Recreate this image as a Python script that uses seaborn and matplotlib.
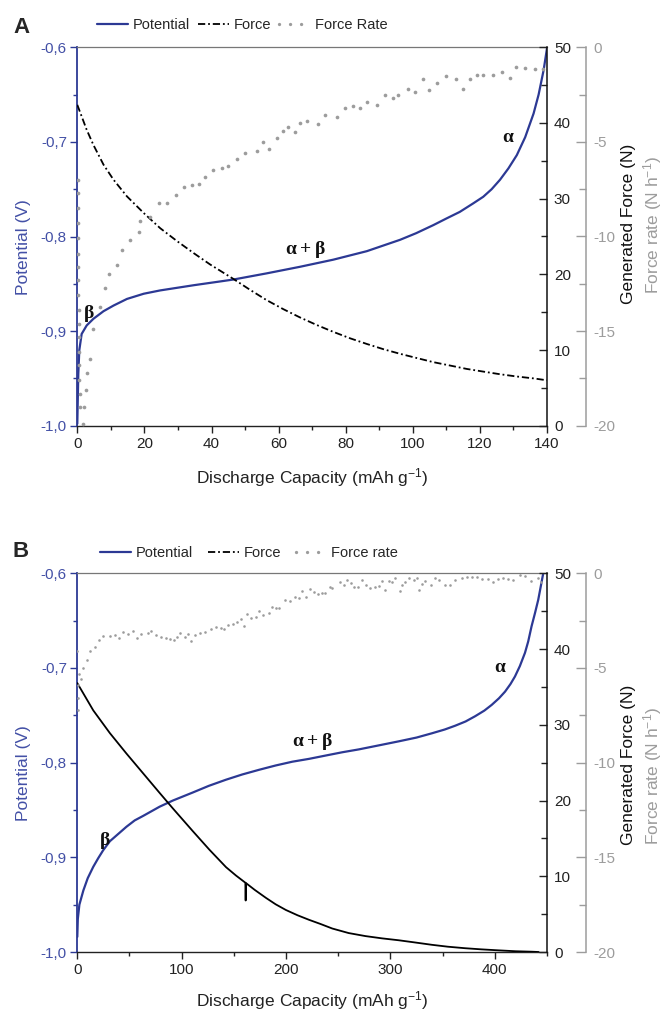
import matplotlib
matplotlib.use("Agg")
import matplotlib.pyplot as plt
import seaborn as sns
from matplotlib.lines import Line2D
from matplotlib.ticker import MultipleLocator, FuncFormatter

# ---- panel A ----
cap_a_pot = [0, 0.3, 0.6, 1.3, 2.8, 4.8, 7.8, 10.8, 14.8, 19.8, 24.7, 34.7, 42.6, 46.5,
             56.4, 66.4, 76.3, 86.3, 96.2, 101, 106.1, 110, 114, 118, 121, 123.5, 126,
             128.5, 131, 133.5, 136, 137.5, 139, 140]
pot_a = [-0.998, -0.945, -0.920, -0.903, -0.894, -0.887, -0.879, -0.873, -0.866, -0.8605,
         -0.857, -0.8515, -0.8475, -0.8455, -0.839, -0.832, -0.8245, -0.8155, -0.8035,
         -0.7965, -0.788, -0.781, -0.774, -0.765, -0.758, -0.750, -0.740, -0.728, -0.714,
         -0.695, -0.670, -0.650, -0.624, -0.601]

cap_a_force = [0, 2.8, 4.8, 7.8, 10.8, 14.8, 19.8, 24.7, 29.7, 34.7, 39.6, 46.5, 51.5,
               56.4, 61.4, 66.4, 71.4, 76.3, 81.3, 86.3, 91.3, 96.2, 101.1, 106.1, 111.1,
               116.1, 121, 126, 131, 136, 140]
force_a = [42.4, 39.1, 37.1, 34.5, 32.5, 30.3, 28.1, 26.1, 24.4, 22.8, 21.3, 19.4, 17.95,
           16.6, 15.4, 14.3, 13.3, 12.4, 11.55, 10.8, 10.1, 9.5, 8.95, 8.4, 7.95,
           7.5, 7.15, 6.8, 6.5, 6.25, 6.0]

cap_a_rate = [0.2, 0.2, 0.25, 0.25, 0.3, 0.3, 0.3, 0.35, 0.35, 0.4, 0.4, 0.45, 0.5, 0.55,
              0.6, 0.7, 0.8,
              1.6, 2.0, 2.6, 3.0, 3.8, 4.8, 6.8, 8.3, 9.3, 11.8, 13.3, 15.8, 18.3, 18.8,
              21.8, 24.3, 26.8, 29.3, 31.8, 34.2, 36.2, 38.2, 40.5, 43.0, 45.0, 47.5, 50.0,
              53.5, 55.4, 57.2, 59.4, 61.4, 62.9, 64.9, 66.4, 68.4, 71.8, 73.8, 77.3, 79.8,
              82.3, 84.3, 86.3, 89.2, 91.7, 94.0, 95.7, 98.7, 100.7, 102.9, 104.9, 107.3,
              109.8, 112.9, 115.1, 117.0, 119.0, 121.0, 123.8, 126.5, 129.0, 130.8, 133.4,
              136.4, 138.9]
rate_a = [-7.0, -7.7, -8.5, -9.3, -10.1, -10.9, -11.6, -12.3, -13.1, -13.9, -14.6, -15.3,
          -16.1, -16.8, -17.6, -18.3, -19.0,
          -19.9, -19.0, -18.1, -17.2, -16.5, -14.9, -13.7, -12.7, -12.0, -11.5, -10.7,
          -10.2, -9.75, -9.2, -8.95, -8.25, -8.25, -7.8, -7.4, -7.3, -7.2, -6.85, -6.5,
          -6.4, -6.3, -5.9, -5.6, -5.5, -5.0, -5.35, -4.8, -4.4, -4.2, -4.5, -4.0, -3.9,
          -4.05, -3.6, -3.7, -3.2, -3.1, -3.2, -2.9, -3.05, -2.5, -2.7, -2.5, -2.2, -2.35,
          -1.7, -2.25, -1.9, -1.5, -1.65, -2.2, -1.7, -1.45, -1.45, -1.45, -1.3, -1.6,
          -1.05, -1.1, -1.15, -1.15]

# ---- panel B ----
cap_b_pot = [0, 0.5, 2, 5.8, 10, 15.3, 20, 24.8, 31.2, 47.1, 55, 63, 78.9, 91.6, 110.7,
             126, 142.5, 158, 174.3, 190, 206, 222, 237.9, 254, 269.7, 290, 307.9, 325,
             339.7, 352, 362, 372, 381.1, 390, 397, 404, 409.8, 415, 419.3, 424, 428.9,
             432, 435.2, 438.5, 441.6, 444, 446.4]
pot_b = [-0.984, -0.965, -0.950, -0.935, -0.922, -0.910, -0.901, -0.8925, -0.883, -0.8677,
         -0.861, -0.8563, -0.8465, -0.840, -0.8315, -0.8245, -0.818, -0.8125, -0.8075,
         -0.803, -0.799, -0.796, -0.7925, -0.789, -0.786, -0.7815, -0.7775, -0.7735,
         -0.769, -0.765, -0.761, -0.7565, -0.751, -0.745, -0.739, -0.732, -0.725, -0.717,
         -0.709, -0.698, -0.684, -0.672, -0.656, -0.642, -0.628, -0.614, -0.600]

cap_b_force = [0, 15.3, 31.2, 47.1, 63, 78.9, 91.6, 110.7, 126.6, 142.5, 152, 161, 161.3,
               161.6, 170, 180.7, 190, 199.8, 211, 222, 233, 244.3, 260, 276.1, 292, 307.9,
               324, 339.7, 355, 371.5, 387, 403.3, 420, 435.2, 442]
force_b = [35.5, 31.9, 28.9, 26.2, 23.6, 21.0, 18.95, 15.95, 13.5, 11.2, 10.1, 9.15, 6.8,
           9.1, 8.2, 7.15, 6.3, 5.55, 4.85, 4.25, 3.7, 3.1, 2.5, 2.1, 1.8, 1.55,
           1.25, 0.95, 0.7, 0.5, 0.35, 0.22, 0.1, 0.04, 0.0]

cap_b_rate = [0.1, 0.3, 0.5, 0.8, 1.2, 3.2, 5.1, 8.9, 12.1, 16.9,
              21.0, 24.8, 31.2, 36.0, 40.1, 43.9, 48.7, 53.5, 57.3, 61.4,
              67.8, 71.0, 75.1, 79.9, 84.6, 88.5, 92.3, 95.4, 98.6, 102.8,
              105.9, 108.5, 112.3, 117.1, 121.9, 128.2, 133.0, 137.8, 140.9, 144.8,
              148.9, 152.7, 156.8, 159.4, 162.2, 166.4, 171.2, 174.3, 178.1, 183.2,
              186.4, 190.2, 193.4, 198.8, 203.6, 208.7, 212.5, 215.7, 218.9, 222.7,
              226.8, 230.9, 234.8, 237.3, 241.8, 244.3, 251.3, 255.4, 258.6, 261.8,
              265.0, 269.1, 272.9, 276.7, 280.9, 285.0, 288.8, 292.0, 294.6, 298.4,
              301.6, 304.7, 309.5, 311.1, 314.3, 317.5, 322.2, 325.4, 327.0, 330.2,
              333.4, 339.1, 342.9, 346.1, 352.5, 357.2, 362.0, 368.4, 373.1, 377.9,
              382.7, 387.4, 393.8, 398.6, 403.3, 408.1, 412.9, 417.6, 424.0, 428.8,
              435.1, 441.5, 444.7]
rate_b = [-4.1, -7.2, -6.6, -5.9, -5.3, -5.6, -5.0, -4.6, -4.1, -3.9,
          -3.5, -3.3, -3.3, -3.25, -3.4, -3.1, -3.2, -3.05, -3.4, -3.2,
          -3.15, -3.05, -3.25, -3.35, -3.4, -3.45, -3.5, -3.35, -3.15, -3.35,
          -3.2, -3.6, -3.25, -3.15, -3.1, -2.95, -2.85, -2.9, -2.95, -2.75,
          -2.7, -2.55, -2.4, -2.8, -2.15, -2.35, -2.3, -2.0, -2.2, -2.1,
          -1.8, -1.85, -1.85, -1.4, -1.45, -1.25, -1.3, -0.95, -1.25, -0.85,
          -1.0, -1.1, -1.05, -1.05, -0.7, -0.8, -0.45, -0.6, -0.35, -0.5,
          -0.7, -0.7, -0.35, -0.6, -0.75, -0.7, -0.65, -0.4, -0.9, -0.4,
          -0.45, -0.25, -0.95, -0.6, -0.45, -0.25, -0.35, -0.25, -0.9, -0.55,
          -0.4, -0.6, -0.25, -0.35, -0.6, -0.6, -0.35, -0.25, -0.2, -0.2,
          -0.2, -0.3, -0.3, -0.45, -0.3, -0.25, -0.3, -0.35, -0.1, -0.12,
          -0.4, -0.25, -0.45]

legend_a = ['Potential', 'Force', 'Force Rate']
legend_b = ['Potential', 'Force', 'Force rate']

BLUE = '#2c3994'
BLUE_TXT = '#4350a6'
GREY = '#9c9c9c'
DASHDOT = (0, (4, 1.6, 1, 1.6))


def coma(v, pos):
    return f'{v:.1f}'.replace('.', ',')


def entero(v, pos):
    return f'{int(round(v))}'


def dibujar_panel(fig, rect, letra, datos, xmax, xmaj, xmin, nombres, leg_x, leg_y,
                  col_sp, letra_y, anot, dot_s, force_ls, lab_force_y, lab_rate_y, xlab_y):
    x_pot, pot, x_f, f, x_r, r = datos
    ax = fig.add_axes(rect)
    ax2 = ax.twinx()
    ax3 = ax.twinx()

    sns.lineplot(x=x_pot, y=pot, ax=ax, color=BLUE, lw=1.6, sort=False,
                 estimator=None, errorbar=None)
    sns.lineplot(x=x_f, y=f, ax=ax2, color='black', lw=1.3, sort=False,
                 estimator=None, errorbar=None, linestyle=force_ls)
    sns.scatterplot(x=x_r, y=r, ax=ax3, color=GREY, s=dot_s, linewidth=0)

    ax.set_xlim(0, xmax)
    ax.set_ylim(-1.0, -0.6)
    ax2.set_ylim(0, 50)
    ax3.set_ylim(-20, 0)

    ax.xaxis.set_major_locator(MultipleLocator(xmaj))
    ax.xaxis.set_minor_locator(MultipleLocator(xmin))
    ax.yaxis.set_major_locator(MultipleLocator(0.1))
    ax.yaxis.set_minor_locator(MultipleLocator(0.05))
    ax.yaxis.set_major_formatter(FuncFormatter(coma))
    ax2.yaxis.set_major_locator(MultipleLocator(10))
    ax2.yaxis.set_minor_locator(MultipleLocator(5))
    ax3.yaxis.set_major_locator(MultipleLocator(5))
    ax3.yaxis.set_minor_locator(MultipleLocator(2.5))
    ax3.yaxis.set_major_formatter(FuncFormatter(entero))

    # espinas
    for s in ['top', 'left', 'bottom']:
        ax2.spines[s].set_visible(False)
        ax3.spines[s].set_visible(False)
    ax.spines['right'].set_visible(False)
    ax.spines['left'].set_color(BLUE)
    ax.spines['left'].set_linewidth(1.3)
    ax.spines['bottom'].set_color('#222222')
    ax.spines['bottom'].set_linewidth(1.0)
    ax.spines['top'].set_color('#777777')
    ax.spines['top'].set_linewidth(0.9)
    ax2.spines['right'].set_color('#111111')
    ax2.spines['right'].set_linewidth(1.1)
    ax3.spines['right'].set_position(('axes', 1.083))
    ax3.spines['right'].set_color(GREY)
    ax3.spines['right'].set_linewidth(1.1)

    ax.tick_params(axis='x', which='major', direction='out', length=5, width=1,
                   labelsize=11, pad=3, colors='#222222')
    ax.tick_params(axis='x', which='minor', direction='out', length=3, width=1,
                   colors='#222222')
    ax.tick_params(axis='y', which='major', direction='out', length=5, width=1,
                   labelsize=11, pad=2.5, color=BLUE, labelcolor=BLUE_TXT)
    ax.tick_params(axis='y', which='minor', direction='out', length=3, width=1,
                   color=BLUE)
    ax2.tick_params(axis='y', which='major', direction='in', length=6, width=1,
                    labelsize=11, pad=5, colors='#222222')
    ax2.tick_params(axis='y', which='minor', direction='in', length=4, width=1,
                    colors='#222222')
    ax3.tick_params(axis='y', which='major', direction='in', length=7, width=1,
                    labelsize=11, pad=5, colors=GREY)
    ax3.tick_params(axis='y', which='minor', direction='in', length=5, width=1,
                    colors=GREY)

    ax.set_xlabel('Discharge Capacity (mAh g$^{-1}$)', fontsize=12.5, color='#222222')
    ax.xaxis.set_label_coords(0.5, xlab_y)
    ax.set_ylabel('Potential (V)', fontsize=12.5, color=BLUE_TXT)
    ax.yaxis.set_label_coords(-0.099, 0.472)
    ax2.set_ylabel('')
    ax3.set_ylabel('')
    fig.text(628 / 664, 1 - lab_force_y / 1013, 'Generated Force (N)', rotation=90,
             ha='center', va='center', fontsize=12.5, color='#111111')
    fig.text(653 / 664, 1 - lab_rate_y / 1013, 'Force rate (N h$^{-1}$)', rotation=90,
             ha='center', va='center', fontsize=12.5, color=GREY)

    # letras griegas
    for txt, xx, yy in anot:
        ax.text(xx, yy, txt, ha='center', va='center', fontsize=14, fontweight='bold',
                family=['Liberation Serif', 'DejaVu Serif'], color='#111111')

    fig.text(13 / 664, 1 - letra_y / 1013, letra, fontsize=16, fontweight='bold',
             ha='left', va='baseline')

    handles = [Line2D([], [], color=BLUE, lw=1.6),
               Line2D([], [], color='black', lw=1.3, linestyle=DASHDOT),
               Line2D([], [], color=GREY, lw=2.4, linestyle=(0, (0.01, 3.3)),
                      dash_capstyle='round')]
    ax3.legend(handles, nombres, loc='lower left', bbox_to_anchor=(leg_x, leg_y),
               ncol=3, frameon=False, fontsize=10.5, handlelength=2.1,
               handletextpad=0.35, columnspacing=col_sp, borderaxespad=0, borderpad=0)
    return ax


sns.set_style('ticks')
plt.rcParams['font.family'] = ['Liberation Sans', 'DejaVu Sans']
plt.rcParams['mathtext.default'] = 'regular'

fig = plt.figure(figsize=(6.64, 10.13), dpi=100)

dibujar_panel(fig, [77.3 / 664, 1 - 425.7 / 1013, 469.7 / 664, 378.4 / 1013], 'A',
              (cap_a_pot, pot_a, cap_a_force, force_a, cap_a_rate, rate_a),
              140, 20, 10, legend_a, 0.042, 1.04, 0.55, 33,
              [(r'$\alpha$', 128.4, -0.695), (r'$\alpha+\beta$', 68, -0.814),
               (r'$\beta$', 3.3, -0.881)],
              7, DASHDOT, 224, 225, -0.108)

dibujar_panel(fig, [77.3 / 664, 1 - 952 / 1013, 469.7 / 664, 378.7 / 1013], 'B',
              (cap_b_pot, pot_b, cap_b_force, force_b, cap_b_rate, rate_b),
              450, 100, 50, legend_b, 0.049, 1.035, 1.0, 557,
              [(r'$\alpha$', 405, -0.699), (r'$\alpha+\beta$', 225, -0.778),
               (r'$\beta$', 26.4, -0.882)],
              3.5, '-', 765, 776, -0.097)

fig.savefig('out.png', dpi=100)
plt.close()
